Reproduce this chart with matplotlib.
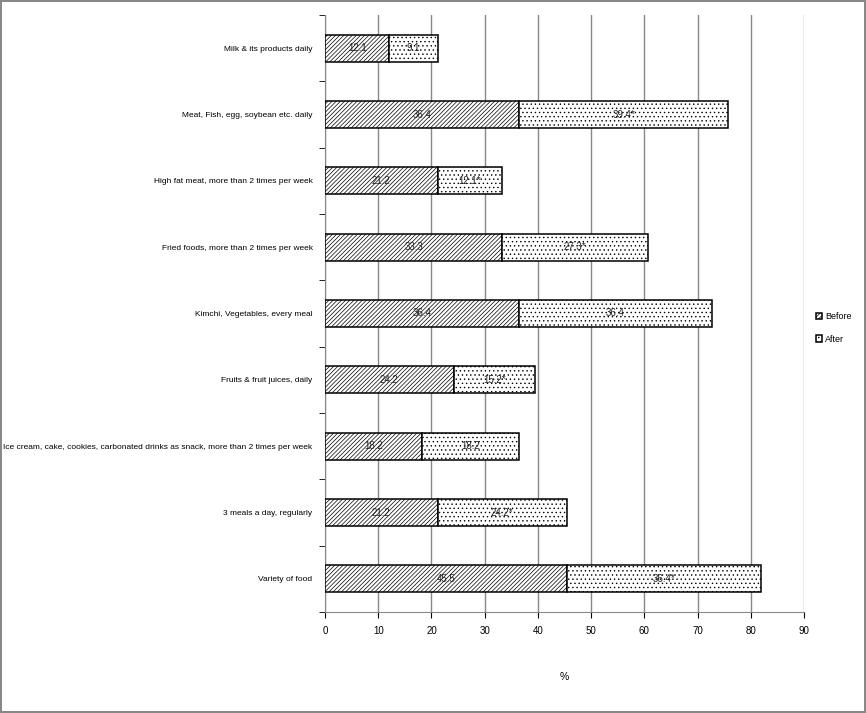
import numpy as np
import matplotlib.pyplot as plt

# datos (orden de arriba hacia abajo)
categories = [
    'Milk & its products daily',
    'Meat, Fish, egg, soybean etc. daily',
    'High fat meat, more than 2 times per week',
    'Fried foods, more than 2 times per week',
    'Kimchi, Vegetables, every meal',
    'Fruits & fruit juices, daily',
    'Ice cream, cake, cookies, carbonated drinks as snack, more than 2 times per week',
    '3 meals a day, regularly',
    'Variety of food',
]
before = [12.1, 36.4, 21.2, 33.3, 36.4, 24.2, 18.2, 21.2, 45.5]
after = [9.1, 39.4, 12.1, 27.3, 36.4, 15.2, 18.2, 24.2, 36.4]
before_labels = ['12.1', '36.4', '21.2', '33.3', '36.4', '24.2', '18.2', '21.2', '45.5']
after_labels = ['9.1', '39.4*', '12.1*', '27.3*', '36.4', '15.2*', '18.2', '24.2*', '36.4*']

plt.rcParams['font.family'] = 'Liberation Sans'
plt.rcParams['hatch.linewidth'] = 0.5
fig = plt.figure(figsize=(8.66, 7.13), dpi=100)
fig.patch.set_edgecolor('#888888')
fig.patch.set_linewidth(1.5)
ax = fig.add_axes([325/866, 1-612/713, (804-325)/866, (612-15)/713])

y = np.arange(len(categories))
h = 0.41

b1 = ax.barh(y, before, height=h, color='white', edgecolor='black',
             hatch='////////', linewidth=1.1, label='Before', zorder=3)
b2 = ax.barh(y, after, left=before, height=h, color='white', edgecolor='black',
             hatch='....', linewidth=1.1, label='After', zorder=3)

for i in range(len(categories)):
    ax.text(before[i]/2, y[i], before_labels[i], ha='center', va='center',
            fontsize=7, color='#222222', zorder=4)
    ax.text(before[i] + after[i]/2, y[i], after_labels[i], ha='center', va='center',
            fontsize=7, color='#222222', zorder=4)

ax.set_xlim(0, 90)
ax.set_ylim(len(categories) - 0.5, -0.5)
ax.set_xticks(np.arange(0, 91, 10))
ax.set_yticks(y)
ax.set_yticklabels(categories, fontsize=6)
ax.set_yticks(np.arange(-0.5, len(categories), 1), minor=True)
ax.tick_params(axis='y', which='major', length=0, pad=9)
ax.tick_params(axis='y', which='minor', length=4)
ax.tick_params(axis='x', labelsize=7, length=4, pad=6)
ax.xaxis.grid(True, color='#888888', linewidth=1, zorder=0)
ax.set_axisbelow(True)
for s in ['top', 'right']:
    ax.spines[s].set_visible(False)
ax.spines['left'].set_color('#888888')
ax.spines['bottom'].set_color('#888888')
ax.set_xlabel('%', fontsize=7.5, labelpad=26)

fig.legend(handles=[b1, b2], labels=['Before', 'After'], loc='center left',
           bbox_to_anchor=(808/866, 1-328/713), frameon=False, fontsize=6.5,
           handlelength=0.7, handleheight=0.7, handletextpad=0.3, labelspacing=1.5)

fig.savefig('out.png', dpi=100, edgecolor=fig.get_edgecolor())
